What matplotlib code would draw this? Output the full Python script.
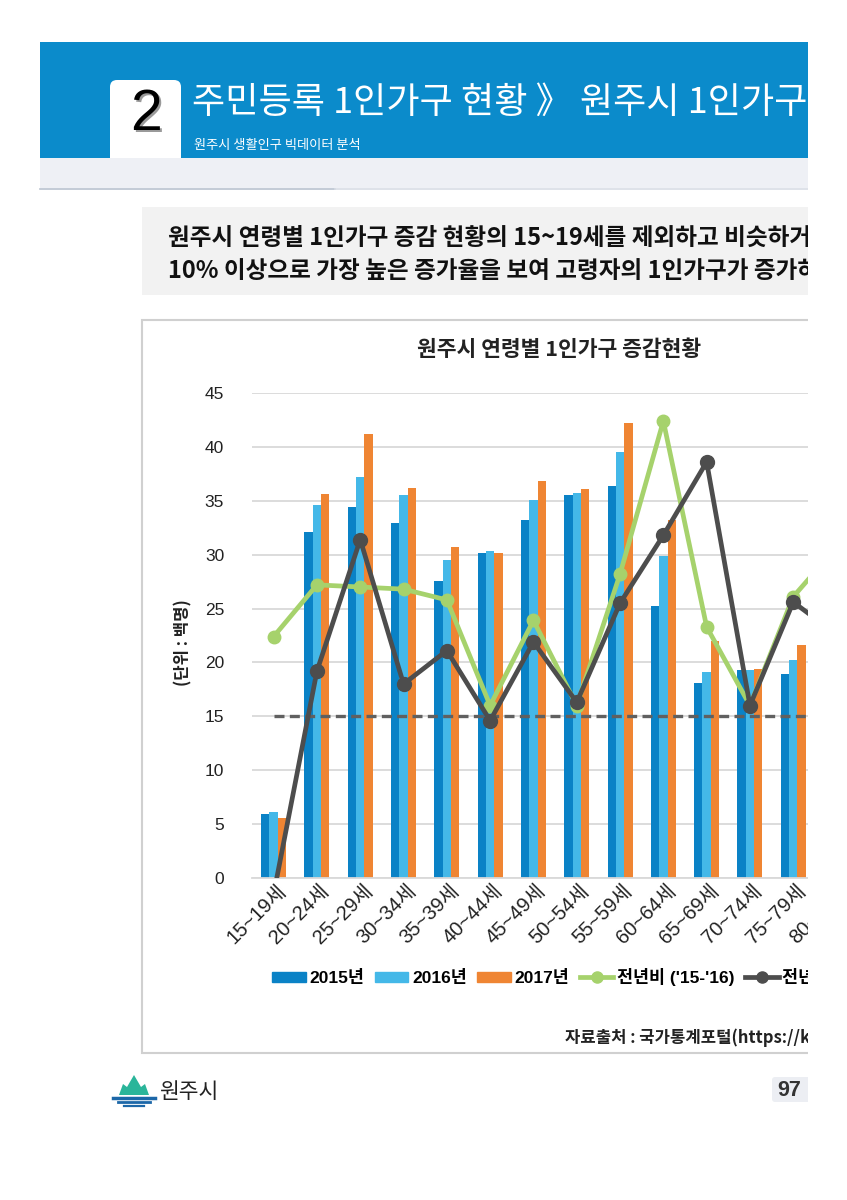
import numpy as np
import matplotlib.pyplot as plt
from matplotlib.patches import Rectangle, FancyBboxPatch, Polygon
from matplotlib.lines import Line2D
from matplotlib.transforms import ScaledTranslation

KR = ['Noto Sans CJK KR', 'DejaVu Sans']
MIX = ['Liberation Sans', 'Noto Sans CJK KR', 'DejaVu Sans']
plt.rcParams['font.family'] = KR

# data
ages = ["15~19세", "20~24세", "25~29세", "30~34세", "35~39세", "40~44세",
        "45~49세", "50~54세", "55~59세", "60~64세", "65~69세", "70~74세",
        "75~79세", "80~84세"]
y2015 = [5.9, 32.1, 34.4, 32.9, 27.6, 30.2, 33.2, 35.5, 36.4, 25.2, 18.1,
         19.3, 18.9, 17.0]
y2016 = [6.1, 34.6, 37.2, 35.5, 29.5, 30.3, 35.1, 35.7, 39.5, 29.9, 19.1,
         19.3, 20.2, 19.0]
y2017 = [5.6, 35.6, 41.2, 36.2, 30.7, 30.2, 36.8, 36.1, 42.2, 33.2, 22.0,
         19.4, 21.6, 21.0]
rate_15_16 = [22.4, 27.2, 27.0, 26.8, 25.8, 16.0, 23.9, 16.0, 28.2, 42.4,
              23.3, 16.0, 26.1, 30.7]
rate_16_17 = [-1.5, 19.2, 31.4, 18.0, 21.1, 14.6, 21.9, 16.3, 25.5, 31.8,
              38.6, 16.0, 25.6, 22.6]
ref_level = 15
yticks = np.arange(0, 50, 5)

W, H = 847, 1200
fig = plt.figure(figsize=(W / 100, H / 100), dpi=100)

# page layer in pixel coordinates
page = fig.add_axes([0, 0, 1, 1])
page.set_xlim(0, W)
page.set_ylim(H, 0)
page.axis('off')

# header band
page.add_patch(Rectangle((40, 42), 768, 116, color='#0b8bcb', lw=0))
page.add_patch(Rectangle((40, 158), 768, 30, color='#eef0f5', lw=0))
page.plot([40, 335], [188.5, 188.5], color='#b9c2cf', lw=1.2)
page.plot([335, 808], [188.5, 188.5], color='#d8dde5', lw=1.2)
page.add_patch(FancyBboxPatch((110, 80), 71, 78, boxstyle="round,pad=0,rounding_size=7",
                              fc='white', ec='none'))
page.add_patch(Rectangle((110, 130), 71, 28, color='white', lw=0))
page.text(148, 117, "2", fontsize=41, color='#9a9a9a', ha='center', va='center',
          family=MIX)
page.text(146, 115, "2", fontsize=41, color='black', ha='center', va='center',
          family=MIX)
page.text(192, 103, "주민등록 1인가구 현황 》 원주시 1인가구", fontsize=26,
          color='white', ha='left', va='center')
page.text(194, 146, "원주시 생활인구 빅데이터 분석", fontsize=9.5, color='white',
          ha='left', va='center')

# summary box
page.add_patch(Rectangle((142, 207), 680, 88, color='#f2f2f2', lw=0))
page.text(168, 238, "원주시 연령별 1인가구 증감 현황의 15~19세를 제외하고 비슷하거나",
          fontsize=17, fontweight='bold', color='#111111', va='center')
page.text(168, 271, "10% 이상으로 가장 높은 증가율을 보여 고령자의 1인가구가 증가하고",
          fontsize=17, fontweight='bold', color='#111111', va='center')

# chart frame
page.add_patch(Rectangle((142, 320), 700, 733, fc='white', ec='#d0d0d0', lw=1.5))
page.text(559, 350, "원주시 연령별 1인가구 증감현황", fontsize=15.5, fontweight='bold',
          color='#222222', ha='center', va='center')
page.text(183, 643, "(단위 : 백명)", fontsize=12, fontweight='bold', color='#222222',
          ha='center', va='center', rotation=90)
page.text(565, 1038, "자료출처 : 국가통계포털(https://kosis.kr)", fontsize=12,
          fontweight='bold', color='#222222', va='center')

# footer
page.add_patch(Polygon([(119, 1095), (123, 1084), (127, 1087), (134, 1075),
                        (141, 1087), (145, 1084), (149, 1095)],
                       closed=True, fc='#2ab59a', ec='none'))
page.plot([113, 155], [1097.5, 1097.5], color='#1c67a8', lw=2.5)
page.plot([118, 150], [1102, 1102], color='#1c67a8', lw=2)
page.plot([124, 144], [1106, 1106], color='#1c67a8', lw=1.6)
page.text(159, 1092, "원주시", fontsize=15.5, color='#222222', va='center')
page.add_patch(FancyBboxPatch((772, 1077), 60, 25, boxstyle="round,pad=0,rounding_size=3",
                              fc='#eceef3', ec='none'))
page.text(777, 1090, "97", fontsize=15.5, fontweight='bold', color='#333333',
          va='center', family=MIX)

# chart axes: one category = 43.3 px, starting at x=252
n = len(ages)
ax = fig.add_axes([252 / W, 1 - 878 / H, 43.3 * n / W, 485 / H])
x = np.arange(n)
bw = 0.192
ax.bar(x - bw, y2015, bw, color='#0a82c6', zorder=2)
ax.bar(x, y2016, bw, color='#44b8e8', zorder=2)
ax.bar(x + bw, y2017, bw, color='#ef8533', zorder=2)
ax.plot(x, [ref_level] * n, color='#606060', lw=2.4, ls=(0, (3, 1.6)), zorder=3)
ax.plot(x, rate_15_16, color='#a6d26c', lw=3.4, marker='o', ms=9, zorder=4)
ax.plot(x, rate_16_17, color='#4d4d4d', lw=3.4, marker='o', ms=10, zorder=5)

ax.set_xlim(-0.5, n - 0.5)
ax.set_ylim(0, 45)
ax.set_yticks(yticks)
ax.set_yticklabels([str(v) for v in yticks], family=MIX, fontsize=12.5,
                   color='#222222')
ax.grid(axis='y', color='#d9d9d9', lw=1.3, zorder=0)
ax.set_axisbelow(True)
for s in ['top', 'right', 'left']:
    ax.spines[s].set_visible(False)
ax.spines['bottom'].set_color('#d9d9d9')
ax.spines['bottom'].set_linewidth(1.3)
ax.tick_params(axis='both', length=0)
ax.tick_params(axis='y', pad=20)
ax.set_xticks(x)
ax.set_xticklabels(ages, rotation=45, ha='right', va='center',
                   rotation_mode='anchor', family=MIX, fontsize=14.5,
                   color='#222222')
shift = ScaledTranslation(9 / 100, -5 / 100, fig.dpi_scale_trans)
for lab in ax.get_xticklabels():
    lab.set_transform(lab.get_transform() + shift)

handles = [
    Rectangle((0, 0), 1, 1, color='#0a82c6'),
    Rectangle((0, 0), 1, 1, color='#44b8e8'),
    Rectangle((0, 0), 1, 1, color='#ef8533'),
    Line2D([], [], color='#a6d26c', lw=3.4, marker='o', ms=8),
    Line2D([], [], color='#4d4d4d', lw=3.4, marker='o', ms=8),
]
labels = ["2015년", "2016년", "2017년", "전년비 ('15-'16)", "전년비 ('16-'17)"]
fig.legend(handles, labels, loc='center left', bbox_to_anchor=(272 / W, 1 - 977 / H),
           ncol=5, frameon=False, handlelength=1.95, handleheight=0.5,
           handletextpad=0.2, columnspacing=0.6, borderpad=0, borderaxespad=0,
           prop={'family': MIX, 'size': 12.5, 'weight': 'bold'})

# page is cropped on the right
fig.patches.append(Rectangle((808 / W, 0), 1, 1, transform=fig.transFigure,
                             fc='white', ec='none', zorder=100))

fig.savefig("out.png", dpi=100)
